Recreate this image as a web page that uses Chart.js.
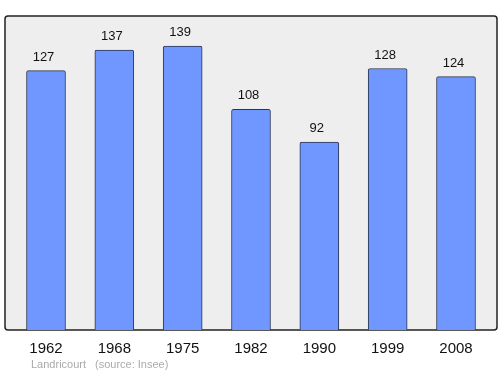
<!DOCTYPE html>
<html>
<head>
<meta charset="utf-8">
<script src="https://cdn.jsdelivr.net/npm/chart.js@4"></script>
<style>
  html, body { margin: 0; padding: 0; background: #ffffff; }
  #wrap { width: 500px; height: 374px; }
</style>
</head>
<body>
<div id="wrap"><canvas id="chart" width="500" height="374"></canvas></div>
<script>
const years = ['1962', '1968', '1975', '1982', '1990', '1999', '2008'];
const population = [127, 137, 139, 108, 92, 128, 124];
const placeName = 'Landricourt';
const sourceText = '(source: Insee)';

const frame = {
	id: 'frame',
	beforeDraw(chart) {
		const { ctx, chartArea: a } = chart;
		ctx.save();
		ctx.fillStyle = '#eeeeee';
		ctx.strokeStyle = '#222222';
		ctx.lineWidth = 1.5;
		ctx.beginPath();
		ctx.roundRect(a.left, a.top, a.right - a.left, a.bottom - a.top, 3);
		ctx.fill();
		ctx.stroke();
		ctx.restore();
	}
};

const valueLabels = {
	id: 'valueLabels',
	afterDatasetsDraw(chart) {
		const { ctx } = chart;
		ctx.save();
		ctx.fillStyle = '#111111';
		ctx.font = '13px "Liberation Sans", Arial, sans-serif';
		ctx.textAlign = 'center';
		ctx.textBaseline = 'alphabetic';
		chart.getDatasetMeta(0).data.forEach((bar, i) => {
			ctx.fillText(String(population[i]), bar.x - 2.5, bar.y - 10);
		});
		ctx.restore();
	}
};

const footer = {
	id: 'footer',
	afterDraw(chart) {
		const { ctx } = chart;
		ctx.save();
		ctx.fillStyle = '#aaaaaa';
		ctx.font = '11px "Liberation Sans", Arial, sans-serif';
		ctx.textBaseline = 'alphabetic';
		ctx.fillText(placeName, 31, 368);
		ctx.fillText(sourceText, 95, 368);
		ctx.restore();
	}
};

new Chart(document.getElementById('chart').getContext('2d'), {
	type: 'bar',
	data: {
		datasets: [{
			data: years.map((y, i) => ({ x: i, y: population[i] })),
			backgroundColor: '#6f97ff',
			borderColor: '#2c3550',
			borderWidth: 1,
			borderRadius: 2,
			borderSkipped: 'bottom',
			barThickness: 39
		}]
	},
	options: {
		responsive: false,
		animation: false,
		layout: { padding: { left: 5, right: 3, top: 16, bottom: 0 } },
		plugins: {
			legend: { display: false },
			tooltip: { enabled: false }
		},
		scales: {
			x: {
				type: 'linear',
				offset: false,
				min: -0.6,
				max: 6.6,
				grid: { display: false, drawTicks: false },
				border: { display: false },
				afterBuildTicks: (scale) => {
					scale.ticks = years.map((y, i) => ({ value: i }));
				},
				afterFit: (scale) => { scale.height = 44; },
				ticks: {
					color: '#111111',
					padding: 10,
					maxRotation: 0,
					font: { family: '"Liberation Sans", Arial, sans-serif', size: 15 },
					callback: (v) => years[v]
				}
			},
			y: {
				display: false,
				min: 0,
				max: 153.7
			}
		}
	},
	plugins: [frame, valueLabels, footer]
});
</script>
</body>
</html>
